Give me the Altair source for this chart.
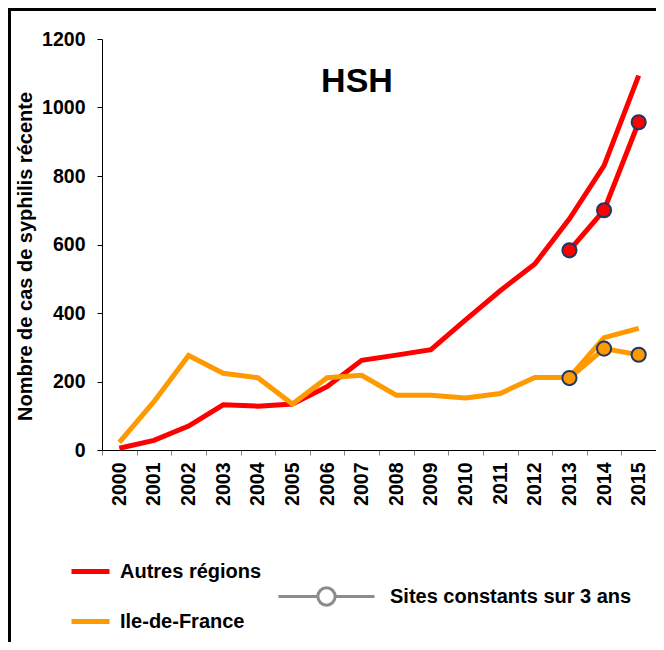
import altair as alt
import pandas as pd

years = [str(y) for y in range(2000, 2016)]
autres = [5, 28, 70, 132, 128, 134, 185, 262, 277, 293, 380, 465, 543, 675, 830, 1093]
idf = [22, 141, 276, 224, 211, 134, 211, 218, 160, 160, 152, 165, 212, 212, 328, 355]

site_years = ["2013", "2014", "2015"]
site_autres = [583, 700, 957]
site_idf = [210, 296, 278]

regions = ["Autres régions", "Ile-de-France"]
colors = ["#ff0000", "#ff9900"]
sites_label = "Sites constants sur 3 ans"

FONT = "Liberation Sans"

rows = []
for y, a, i in zip(years, autres, idf):
    rows.append({"year": y, "value": a, "region": regions[0], "grp": "all"})
    rows.append({"year": y, "value": i, "region": regions[1], "grp": "all"})
for y, a, i in zip(site_years, site_autres, site_idf):
    rows.append({"year": y, "value": a, "region": regions[0], "grp": "sites"})
    rows.append({"year": y, "value": i, "region": regions[1], "grp": "sites"})
lines_df = pd.DataFrame(rows)

pts = []
for y, a, i in zip(site_years, site_autres, site_idf):
    pts.append({"year": y, "value": a, "region": regions[0], "type": sites_label})
    pts.append({"year": y, "value": i, "region": regions[1], "type": sites_label})
pts_df = pd.DataFrame(pts)

x_enc = alt.X(
    "year:O",
    title=None,
    sort=years,
    scale=alt.Scale(domain=years, paddingInner=0, paddingOuter=0),
    axis=alt.Axis(
        labelAngle=-90, labelFont=FONT, labelFontSize=19.5, labelFontWeight="bold",
        labelColor="black", tickColor="#808080", tickSize=5, domainColor="black",
        labelPadding=7, tickBand="extent", grid=False,
    ),
)
y_enc = alt.Y(
    "value:Q",
    scale=alt.Scale(domain=[0, 1200], nice=False),
    axis=alt.Axis(
        values=[0, 200, 400, 600, 800, 1000, 1200], format="d",
        title="Nombre de cas de syphilis récente",
        titleFont=FONT, titleFontSize=20, titleFontWeight="bold", titleColor="black",
        titleAngle=-90, titleX=-77, titleY=217, titleAlign="center", titleBaseline="middle",
        titleLimit=0,
        labelFont=FONT, labelFontSize=19.5, labelFontWeight="bold", labelColor="black",
        tickColor="black", tickSize=5, domainColor="black", labelPadding=12, grid=False,
    ),
)

color_legend = alt.Legend(
    title=None, orient="none", legendX=-33, legendY=511, symbolType="stroke",
    symbolSize=1444, symbolStrokeWidth=5, labelFont=FONT, labelFontSize=20,
    labelFontWeight="bold", labelColor="black", labelOffset=8, rowPadding=18, padding=0,
    labelLimit=0,
)

lines = alt.Chart(lines_df).mark_line(strokeWidth=5, strokeJoin="miter").encode(
    x=x_enc,
    y=y_enc,
    color=alt.Color("region:N", scale=alt.Scale(domain=regions, range=colors), legend=color_legend),
    detail="grp:N",
)

sym_path = ("M-1,0H-0.18M0.18,0H1M-0.18,0A0.18,0.18 0 1,0 0.18,0A0.18,0.18 0 1,0 -0.18,0Z")
points = alt.Chart(pts_df).mark_point(filled=True, size=200, stroke="#1f3864", strokeWidth=2).encode(
    x=x_enc,
    y=y_enc,
    fill=alt.Fill("region:N", scale=alt.Scale(domain=regions, range=colors), legend=None),
    opacity=alt.Opacity(
        "type:N", scale=alt.Scale(range=[1]),
        legend=alt.Legend(
            title=None, orient="none", legendX=175, legendY=508, symbolType=sym_path,
            symbolSize=9216, symbolStrokeWidth=3, symbolStrokeColor="#8c8c8c",
            symbolFillColor="white", symbolOpacity=1, labelFont=FONT, labelFontSize=20,
            labelFontWeight="bold", labelColor="black", labelOffset=14, padding=0,
            labelLimit=0,
        ),
    ),
)

border = alt.Chart(pd.DataFrame({"a": [0]})).mark_rect(
    fillOpacity=0, stroke="black", strokeWidth=3
).encode(
    x=alt.value(-92.5), x2=alt.value(700), y=alt.value(-29.5), y2=alt.value(800)
)

chart = alt.layer(lines, points, border).properties(
    width=554,
    height=411,
    autosize=alt.AutoSizeParams(type="none"),
    padding={"left": 94, "top": 31, "right": 0, "bottom": 192},
    title=alt.TitleParams("HSH", font=FONT, fontSize=34, fontWeight="bold", color="black",
                          anchor="middle", dx=-22, dy=95),
).configure_view(stroke=None)

chart.save("out.html", embed_options={"renderer": "svg", "actions": False})
